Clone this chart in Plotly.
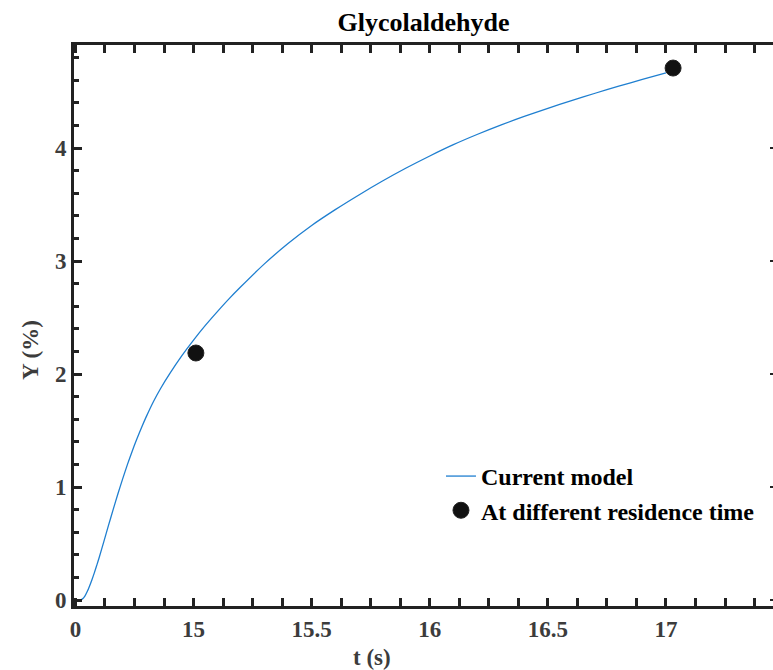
import plotly.graph_objects as go

# Model curve (t in s, Y in %)
model_t = [14.505, 14.52, 14.53, 14.54, 14.55, 14.56, 14.57, 14.58, 14.59, 14.60,
           14.62, 14.64, 14.66, 14.68, 14.70, 14.72, 14.74, 14.76, 14.78, 14.80,
           14.83, 14.86, 14.90, 14.95, 15.00, 15.05, 15.10, 15.15, 15.20, 15.30,
           15.40, 15.50, 15.60, 15.70, 15.80, 15.90, 16.00, 16.10, 16.20, 16.30,
           16.40, 16.50, 16.60, 16.70, 16.80, 16.90, 17.00]
model_y = [0.0, 0.0, 0.01, 0.035, 0.075, 0.125, 0.18, 0.24, 0.305, 0.372,
           0.515, 0.66, 0.802, 0.94, 1.072, 1.198, 1.315, 1.424, 1.527, 1.623,
           1.755, 1.87, 2.005, 2.16, 2.30, 2.43, 2.55, 2.665, 2.772, 2.975,
           3.155, 3.315, 3.455, 3.585, 3.708, 3.823, 3.93, 4.03, 4.12, 4.203,
           4.28, 4.352, 4.42, 4.485, 4.547, 4.607, 4.665]

# Experimental points
exp_t = [15.01, 17.03]
exp_y = [2.186, 4.708]

x_tickvals = [14.5, 15, 15.5, 16, 16.5, 17]
x_ticktext = ["0", "15", "15.5", "16", "16.5", "17"]
y_tickvals = [0, 1, 2, 3, 4]
y_ticktext = ["0", "1", "2", "3", "4"]

FONT = "Times New Roman, Liberation Serif, serif"
X_RANGE = [14.494, 17.453]
Y_RANGE = [-0.053, 4.912]

fig = go.Figure()
fig.add_trace(go.Scatter(x=model_t, y=model_y, mode="lines", name="<b>Current model</b>",
                         line=dict(color="#1f7fd0", width=1.3, shape="spline", smoothing=0.8),
                         legendgroup="a"))
fig.add_trace(go.Scatter(x=exp_t, y=exp_y, mode="markers", name="<b>At different residence time</b>",
                         marker=dict(color="#111111", size=16, line=dict(color="#222", width=1)),
                         legendgroup="b"))
# invisible trace to host the right-hand tick axis
fig.add_trace(go.Scatter(x=[exp_t[0]], y=[exp_y[0]], yaxis="y2", mode="markers",
                         marker=dict(opacity=0), showlegend=False, hoverinfo="skip"))

tickfont = dict(family=FONT, size=23, color="#3c3c3c")

fig.update_xaxes(range=X_RANGE, tickvals=x_tickvals,
                 ticktext=["<b>%s</b>" % t for t in x_ticktext],
                 showgrid=False, zeroline=False, showline=True, linecolor="#222",
                 linewidth=3, ticks="inside", tickwidth=3, tickcolor="#222", ticklen=8,
                 mirror="allticks", tickfont=tickfont,
                 minor=dict(dtick=0.125, tick0=14.5, ticks="inside", ticklen=5, tickwidth=3,
                            tickcolor="#222", showgrid=False))
fig.update_layout(
    yaxis=dict(range=Y_RANGE, tickvals=y_tickvals,
               ticktext=["<b>%s</b>" % t for t in y_ticktext],
               showgrid=False, zeroline=False, showline=True, linecolor="#222",
               linewidth=3, ticks="inside", tickwidth=3, tickcolor="#222", ticklen=8,
               mirror=False, tickfont=tickfont,
               minor=dict(dtick=0.2, tick0=0, ticks="inside", ticklen=5, tickwidth=3,
                          tickcolor="#222", showgrid=False)),
    yaxis2=dict(range=Y_RANGE, overlaying="y", side="right", tickvals=y_tickvals,
                showticklabels=False, showgrid=False, zeroline=False, showline=False,
                ticks="inside", ticklen=3, tickwidth=2, tickcolor="#222"),
)

fig.update_layout(
    width=773, height=670,
    margin=dict(l=74, r=0, t=45, b=64),
    plot_bgcolor="white", paper_bgcolor="white",
    title=dict(text="<b>Glycolaldehyde</b>", x=0.5, xref="paper", y=1 - 22 / 670,
               yref="container", yanchor="middle", xanchor="center",
               font=dict(family=FONT, size=26, color="black")),
    legend=dict(x=0.525, y=0.271, xanchor="left", yanchor="top", bgcolor="rgba(0,0,0,0)",
                font=dict(family=FONT, size=24, color="black"), tracegroupgap=0,
                itemwidth=30),
    showlegend=True,
    annotations=[
        dict(text="<b>t (s)</b>", x=(372 - 74) / 699, xref="paper", y=-(657 - 606) / 561,
             yref="paper", showarrow=False, xanchor="center", yanchor="middle",
             font=dict(family=FONT, size=23, color="#3c3c3c")),
        dict(text="<b>Y (%)</b>", x=-(74 - 30) / 699, xref="paper", y=(606 - 350) / 561,
             yref="paper", showarrow=False, xanchor="center", yanchor="middle", textangle=-90,
             font=dict(family=FONT, size=23, color="#3c3c3c")),
    ],
)

fig.write_html("out.html")
